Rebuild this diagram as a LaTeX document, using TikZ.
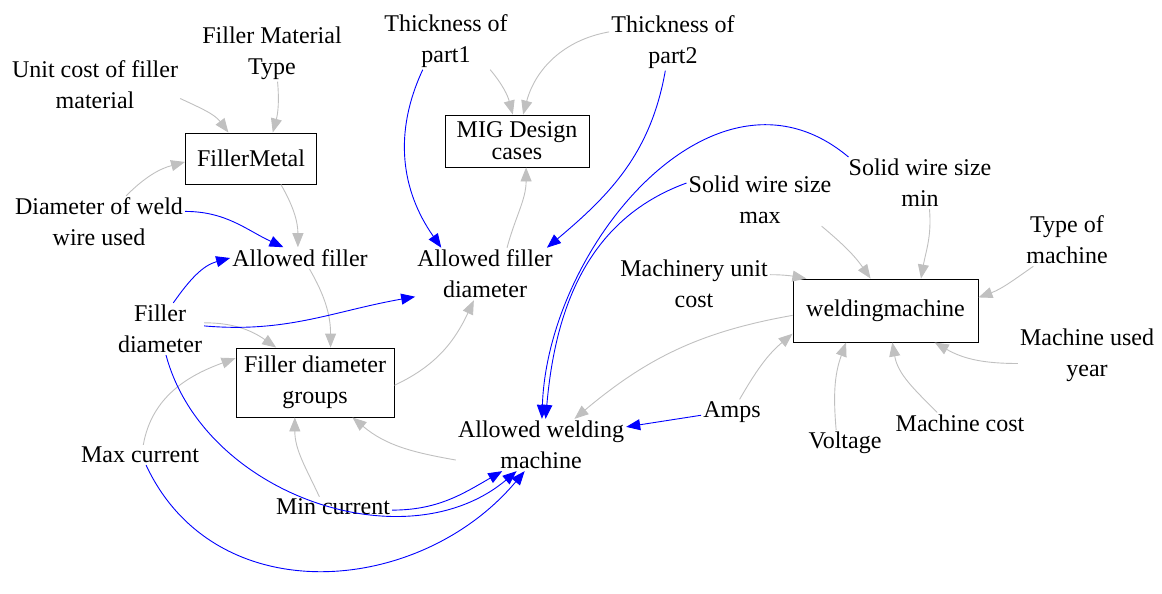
\documentclass[tikz,border=0pt]{standalone}
\usepackage{fontspec}
\setmainfont{Liberation Serif}
\usetikzlibrary{arrows.meta}
\definecolor{linkgray}{RGB}{192,192,192}
\definecolor{linkblue}{RGB}{0,0,255}

\begin{document}
\begin{tikzpicture}[x=1pt,y=1pt,
  every node/.append style={font=\fontsize{24}{31}\selectfont, align=center, inner sep=2pt},
  var/.style={},
  box/.style={draw, line width=0.9pt, inner sep=0pt},
  glink/.style={draw=linkgray, line width=0.9pt, -{Triangle[length=14pt,width=11pt]}},
  blink/.style={draw=linkblue, line width=0.9pt, -{Triangle[length=14pt,width=11pt]}}
  ]
  \useasboundingbox (0,0) rectangle (1162,-594);

  % filler side
  \node (unitcost) [var] at (95,-85) {Unit cost of filler\\material};
  \node (fmtype) [var] at (272,-53) {Filler Material\\Type};
  \node (fillermetal) [box, minimum width=131pt, minimum height=51pt] at (251,-158.5) {FillerMetal};
  \node (diamweld) [var] at (99,-222) {Diameter of weld\\wire used};
  \node (allowfill) [var] at (300,-258) {Allowed filler};
  \node (fillerdiam) [var] at (160,-329) {Filler\\diameter};
  \node (groups) [box, minimum width=158pt, minimum height=69pt] at (315,-382.5) {Filler diameter\\groups};
  \node (maxcur) [var] at (140,-455) {Max current};
  \node (mincur) [var] at (333,-507) {Min current};

  % design cases
  \node (part1) [var] at (446,-41) {Thickness of\\part1};
  \node (part2) [var] at (673,-42) {Thickness of\\part2};
  \node (mig) [box, minimum width=144pt, minimum height=52pt,
               font=\fontsize{24}{22}\selectfont] at (517,-141) {MIG Design\\cases};
  \node (allowdiam) [var] at (485,-274) {Allowed filler\\diameter};
  \node (allowweld) [var] at (541,-445) {Allowed welding\\machine};

  % machine side
  \node (wiremax) [var] at (760,-200) {Solid wire size\\max};
  \node (wiremin) [var] at (920,-183) {Solid wire size\\min};
  \node (typemach) [var] at (1067,-240) {Type of\\machine};
  \node (unitcostm) [var] at (694,-284) {Machinery unit\\cost};
  \node (welding) [box, minimum width=185pt, minimum height=63pt] at (885.5,-310.5) {weldingmachine};
  \node (usedyear) [var] at (1087,-355) {Machine used\\year};
  \node (machcost) [var] at (960,-423) {Machine cost};
  \node (voltage) [var] at (845,-443) {Voltage};
  \node (amps) [var] at (732,-412) {Amps};

  % gray links
  \draw[glink] (unitcost.-9) to[out=-25,in=127] (fillermetal.131);
  \draw[glink] (fmtype.-79) to[out=-85,in=75] (fillermetal.50);
  \draw[glink] (diamweld.44) to[out=45,in=195] (fillermetal.183);
  \draw[glink] (fillermetal.-41) to[out=-60,in=90] (allowfill.101);
  \draw[glink] (allowfill.-49) to[out=-60,in=90] (groups.66);
  \draw[glink] (fillerdiam.8) to[out=0,in=145] (groups.138);
  \draw[glink] (maxcur.72) to[out=80,in=200] (groups.163);
  \draw[glink] (mincur.143) to[out=115,in=-90] (groups.-120);
  \draw[glink] (allowweld.190) to[out=170,in=-40] (groups.-43);
  \draw[glink] (groups.-2) to[out=25,in=-115] (allowdiam.-113);
  \draw[glink] (allowdiam.50) to[out=75,in=-90] (mig.-71);
  \draw[glink] (part1.-33) to[out=-50,in=105] (mig.99);
  \draw[glink] (part2.171) to[out=190,in=75] (mig.77);
  \draw[glink] (wiremax.-23.5) to[out=-40,in=125] (welding.115);
  \draw[glink] (wiremin.-70) to[out=-85,in=80] (welding.42);
  \draw[glink] (typemach.-142) to[out=-145,in=20] (welding.8);
  \draw[glink] (unitcostm.7.5) to[out=0,in=170] (welding.158);
  \draw[glink] (usedyear.187) to[out=180,in=-30] (welding.-33);
  \draw[glink] (machcost.155) to[out=135,in=-80] (welding.-78);
  \draw[glink] (voltage.124) to[out=95,in=-110] (welding.-141);
  \draw[glink] (amps.59) to[out=60,in=-140] (welding.-166);
  \draw[glink] (welding.183) to[out=190,in=40] (allowweld.38);

  % blue links
  \draw[blink] (diamweld.7) to[out=0,in=155] (allowfill.147);
  \draw[blink] (fillerdiam.63) to[out=55,in=195] (allowfill.180);
  \draw[blink] (fillerdiam.4) to[out=-5,in=190] (allowdiam.198);
  \draw[blink] (part1.-129) to[out=-115,in=125] (allowdiam.149);
  \draw[blink] (part2.-105) to[out=-100,in=40] (allowdiam.23);
  \draw[blink] (wiremin.160) to[out=140,in=88,looseness=1.1] (allowweld.88);
  \draw[blink] (wiremax.167) to[out=200,in=85] (allowweld.80);
  \draw[blink] (fillerdiam.-77) to[out=-75,in=-140] (allowweld.-133);
  \draw[blink] (maxcur.-59) to[out=-65,in=-130,looseness=1.1] (allowweld.-122);
  \draw[blink] (mincur.-3) to[out=0,in=-150] (allowweld.-146);
  \draw[blink] (amps.186) -- (allowweld.12);
\end{tikzpicture}
\end{document}
